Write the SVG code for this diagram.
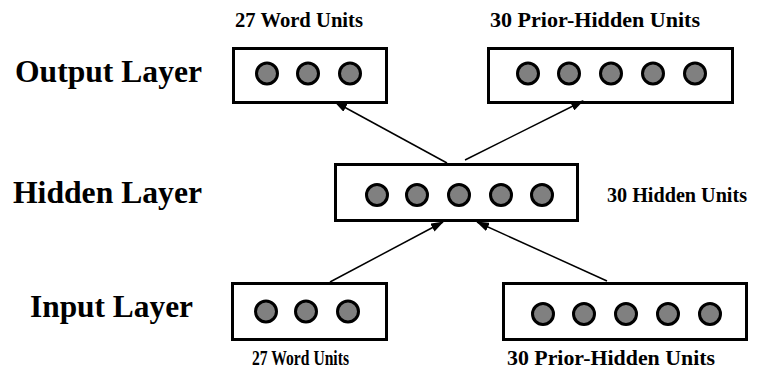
<svg xmlns="http://www.w3.org/2000/svg" width="757" height="379" viewBox="0 0 757 379">
<style>
.box{fill:#fff;stroke:#000;stroke-width:3}
.u{fill:#808080;stroke:#000;stroke-width:3}
.big{font-family:"Liberation Serif","Times New Roman",serif;font-weight:bold;font-size:32px;fill:#000}
.sm{font-family:"Liberation Serif","Times New Roman",serif;font-weight:bold;font-size:21px;fill:#000}
.edge{stroke:#000;stroke-width:1.5;fill:none;marker-end:url(#ah)}
</style>
<defs>
<marker id="ah" markerUnits="userSpaceOnUse" markerWidth="13" markerHeight="9" refX="12" refY="4.5" orient="auto">
<path d="M0,0 L13,4.5 L0,9 z" fill="#000"/>
</marker>
</defs>
<rect width="757" height="379" fill="#fff"/>
<g id="labels">
<text class="big" x="15" y="82" textLength="187" lengthAdjust="spacingAndGlyphs">Output Layer</text>
<text class="big" x="13" y="203" textLength="189" lengthAdjust="spacingAndGlyphs">Hidden Layer</text>
<text class="big" x="30" y="317" textLength="163" lengthAdjust="spacingAndGlyphs">Input Layer</text>
</g>
<g id="out-word">
<rect class="box" x="233.5" y="48.5" width="153" height="54"/>
<circle class="u" cx="267" cy="73.5" r="10.5"/>
<circle class="u" cx="308" cy="73.5" r="10.5"/>
<circle class="u" cx="350" cy="73.5" r="10.5"/>
<text class="sm" x="235" y="27" textLength="128" lengthAdjust="spacingAndGlyphs">27 Word Units</text>
</g>
<g id="out-prior">
<rect class="box" x="488.5" y="48.5" width="244" height="54"/>
<circle class="u" cx="528" cy="73.5" r="10.5"/>
<circle class="u" cx="569" cy="73.5" r="10.5"/>
<circle class="u" cx="611" cy="73.5" r="10.5"/>
<circle class="u" cx="653" cy="73.5" r="10.5"/>
<circle class="u" cx="695" cy="73.5" r="10.5"/>
<text class="sm" x="490" y="27" textLength="210" lengthAdjust="spacingAndGlyphs">30 Prior-Hidden Units</text>
</g>
<g id="hidden">
<rect class="box" x="335.5" y="164.5" width="242" height="56"/>
<circle class="u" cx="377" cy="195" r="10.5"/>
<circle class="u" cx="417" cy="195" r="10.5"/>
<circle class="u" cx="459" cy="195" r="10.5"/>
<circle class="u" cx="501" cy="195" r="10.5"/>
<circle class="u" cx="542" cy="195" r="10.5"/>
<text class="sm" x="607" y="202" textLength="140" lengthAdjust="spacingAndGlyphs">30 Hidden Units</text>
</g>
<g id="in-word">
<rect class="box" x="232.5" y="283.5" width="154" height="56"/>
<circle class="u" cx="266" cy="311.5" r="10.5"/>
<circle class="u" cx="306" cy="311.5" r="10.5"/>
<circle class="u" cx="348" cy="311.5" r="10.5"/>
<text class="sm" x="252" y="365" textLength="97" lengthAdjust="spacingAndGlyphs">27 Word Units</text>
</g>
<g id="in-prior">
<rect class="box" x="503.5" y="283.5" width="243" height="56"/>
<circle class="u" cx="543" cy="314" r="10.5"/>
<circle class="u" cx="584" cy="314" r="10.5"/>
<circle class="u" cx="626" cy="314" r="10.5"/>
<circle class="u" cx="668" cy="314" r="10.5"/>
<circle class="u" cx="710" cy="314" r="10.5"/>
<text class="sm" x="507" y="365" textLength="208" lengthAdjust="spacingAndGlyphs">30 Prior-Hidden Units</text>
</g>
<g id="connectors">
<line class="edge" x1="447" y1="163" x2="335" y2="102"/>
<line class="edge" x1="465" y1="160" x2="583" y2="101"/>
<line class="edge" x1="330" y1="282" x2="443" y2="222"/>
<line class="edge" x1="607" y1="281" x2="477" y2="222"/>
</g>
</svg>
